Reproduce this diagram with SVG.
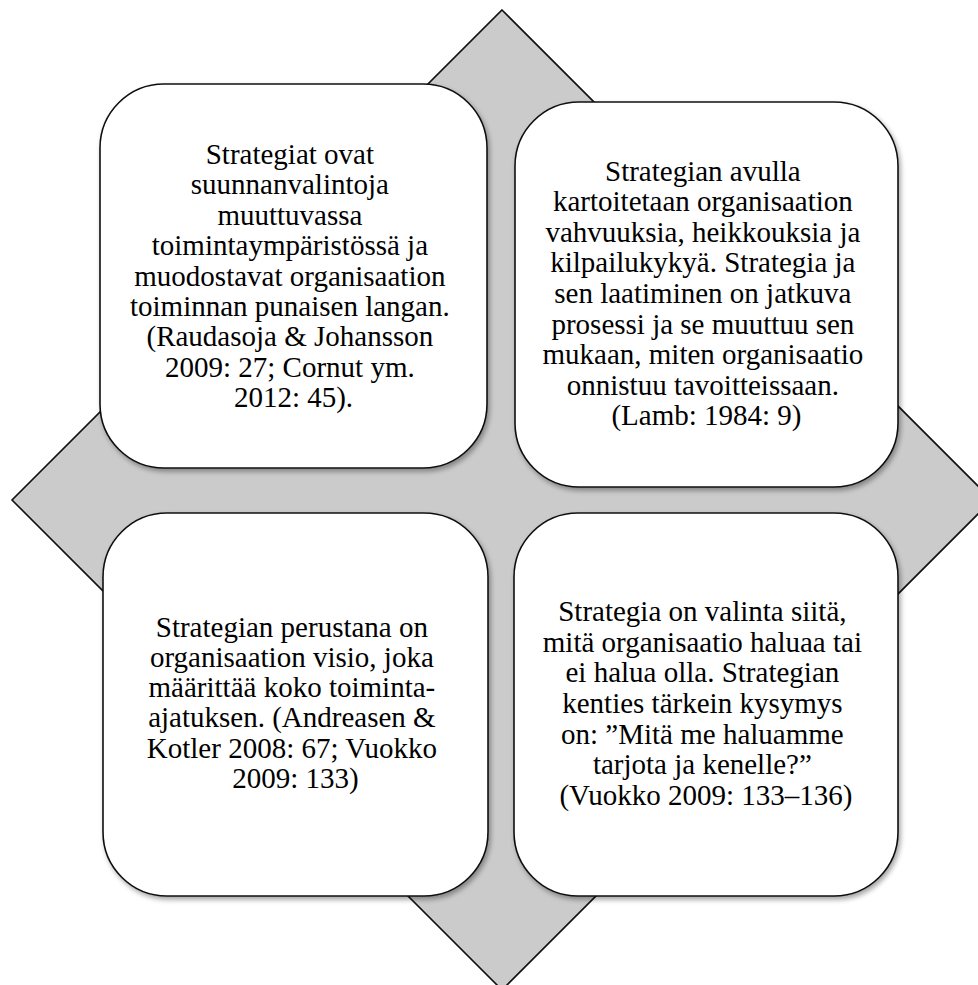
<svg xmlns="http://www.w3.org/2000/svg" width="978" height="985" viewBox="0 0 978 985">
  <defs>
    <filter id="soft-shadow" x="-10%" y="-10%" width="120%" height="120%">
      <feDropShadow dx="2" dy="3" stdDeviation="2.5" flood-color="#000" flood-opacity="0.35"/>
    </filter>
  </defs>
  <style>
    .bg { fill: #ffffff; }
    .diamond { fill: #cbcbcb; stroke: #111; stroke-width: 1.6; }
    .card { fill: #ffffff; stroke: #111; stroke-width: 1.6; filter: url(#soft-shadow); }
    .label { font-family: "Liberation Serif", "Times New Roman", serif; font-size: 29px; fill: #000; text-anchor: middle; }
  </style>

  <rect class="bg" x="0" y="0" width="978" height="985"/>

  <!-- backdrop diamond -->
  <g id="diamond">
    <polygon class="diamond" points="502,10 992,500 502,990 12,500"/>
  </g>

  <g id="connectors"></g>

  <!-- top-left card -->
  <g id="node-top-left">
    <rect class="card" x="100" y="84" width="387" height="384" rx="64" ry="64"/>
    <text class="label">
      <tspan x="293.5" y="164">Strategiat ovat</tspan>
      <tspan x="293.5" y="194.4">suunnanvalintoja</tspan>
      <tspan x="293.5" y="224.8">muuttuvassa</tspan>
      <tspan x="293.5" y="255.2">toimintaympäristössä ja</tspan>
      <tspan x="293.5" y="285.6">muodostavat organisaation</tspan>
      <tspan x="293.5" y="316">toiminnan punaisen langan.</tspan>
      <tspan x="293.5" y="346.4">(Raudasoja &amp; Johansson</tspan>
      <tspan x="293.5" y="376.8">2009: 27; Cornut ym.</tspan>
      <tspan x="293.5" y="407.2">2012: 45).</tspan>
    </text>
  </g>

  <!-- top-right card -->
  <g id="node-top-right">
    <rect class="card" x="515" y="102" width="383" height="385" rx="64" ry="64"/>
    <text class="label">
      <tspan x="706.5" y="180.5">Strategian avulla</tspan>
      <tspan x="706.5" y="211.1">kartoitetaan organisaation</tspan>
      <tspan x="706.5" y="241.7">vahvuuksia, heikkouksia ja</tspan>
      <tspan x="706.5" y="272.3">kilpailukykyä. Strategia ja</tspan>
      <tspan x="706.5" y="302.9">sen laatiminen on jatkuva</tspan>
      <tspan x="706.5" y="333.5">prosessi ja se muuttuu sen</tspan>
      <tspan x="706.5" y="364.1">mukaan, miten organisaatio</tspan>
      <tspan x="706.5" y="394.7">onnistuu tavoitteissaan.</tspan>
      <tspan x="706.5" y="425.3">(Lamb: 1984: 9)</tspan>
    </text>
  </g>

  <!-- bottom-left card -->
  <g id="node-bottom-left">
    <rect class="card" x="103" y="513" width="385" height="383" rx="64" ry="64"/>
    <text class="label">
      <tspan x="295.5" y="636.7">Strategian perustana on</tspan>
      <tspan x="295.5" y="666.9">organisaation visio, joka</tspan>
      <tspan x="295.5" y="697.1">määrittää koko toiminta-</tspan>
      <tspan x="295.5" y="727.3">ajatuksen. (Andreasen &amp;</tspan>
      <tspan x="295.5" y="757.5">Kotler 2008: 67; Vuokko</tspan>
      <tspan x="295.5" y="787.7">2009: 133)</tspan>
    </text>
  </g>

  <!-- bottom-right card -->
  <g id="node-bottom-right">
    <rect class="card" x="514" y="513" width="384" height="383" rx="64" ry="64"/>
    <text class="label">
      <tspan x="706" y="621">Strategia on valinta siitä,</tspan>
      <tspan x="706" y="651.7">mitä organisaatio haluaa tai</tspan>
      <tspan x="706" y="682.3">ei halua olla. Strategian</tspan>
      <tspan x="706" y="713">kenties tärkein kysymys</tspan>
      <tspan x="706" y="743.7">on: ”Mitä me haluamme</tspan>
      <tspan x="706" y="774.3">tarjota ja kenelle?”</tspan>
      <tspan x="706" y="805">(Vuokko 2009: 133–136)</tspan>
    </text>
  </g>
</svg>
